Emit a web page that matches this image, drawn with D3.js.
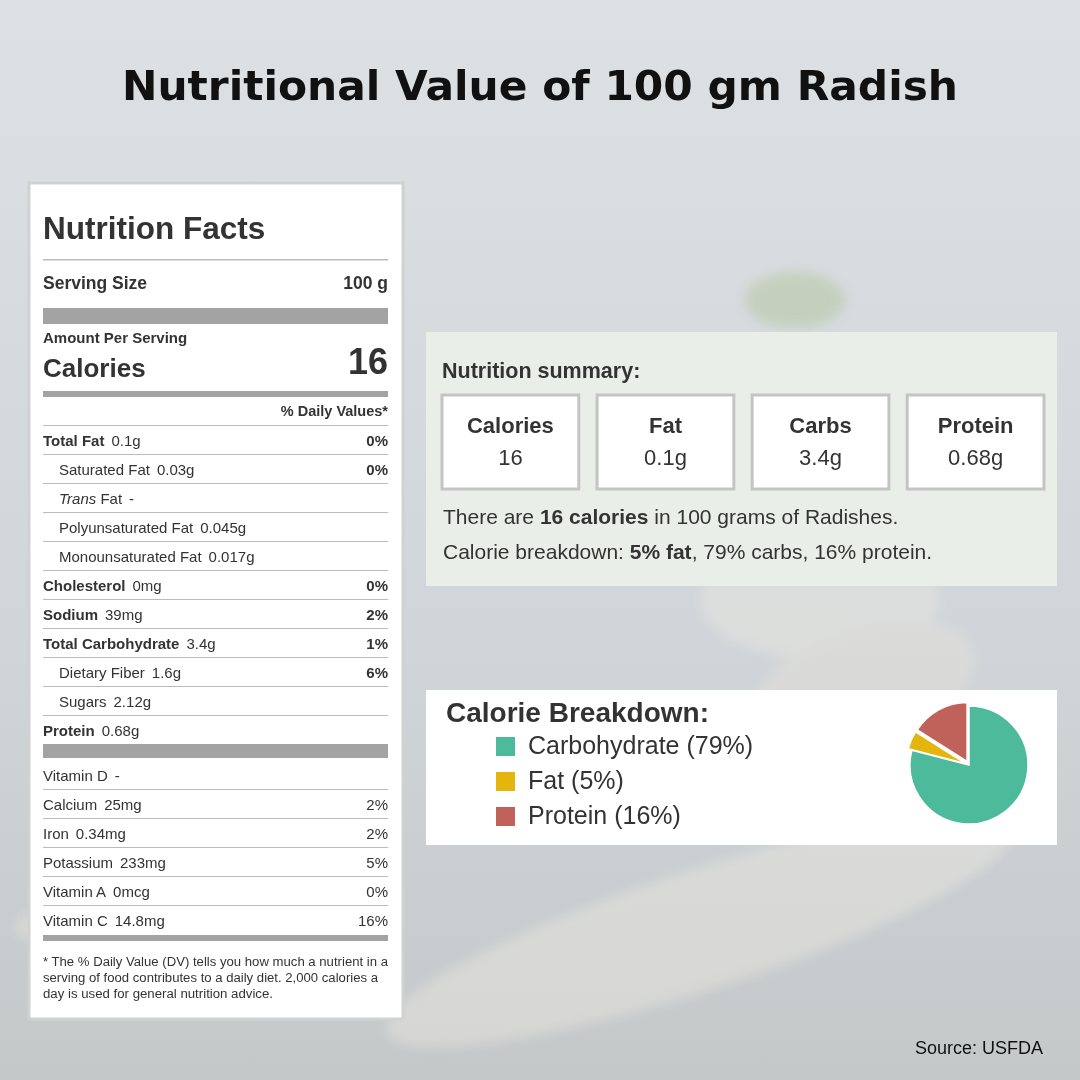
<!DOCTYPE html>
<html>
<head>
<meta charset="utf-8">
<script src="https://cdn.jsdelivr.net/npm/d3@7"></script>
<style>
  body { margin: 0; }
  svg { display: block; font-family: "Liberation Sans", Arial, sans-serif; }
</style>
</head>
<body>
<svg id="chart" width="1080" height="1080"></svg>
<script>
// nutrient rows: [label, amount, %DV, bold, indent, italic]
const nutrientRows = [
  ["Total Fat", "0.1g", "0%", true, false, false],
  ["Saturated Fat", "0.03g", "0%", false, true, false],
  ["Trans", "-", "", false, true, true],
  ["Polyunsaturated Fat", "0.045g", "", false, true, false],
  ["Monounsaturated Fat", "0.017g", "", false, true, false],
  ["Cholesterol", "0mg", "0%", true, false, false],
  ["Sodium", "39mg", "2%", true, false, false],
  ["Total Carbohydrate", "3.4g", "1%", true, false, false],
  ["Dietary Fiber", "1.6g", "6%", false, true, false],
  ["Sugars", "2.12g", "", false, true, false],
  ["Protein", "0.68g", "", true, false, false]
];
const vitaminRows = [
  ["Vitamin D", "-", ""],
  ["Calcium", "25mg", "2%"],
  ["Iron", "0.34mg", "2%"],
  ["Potassium", "233mg", "5%"],
  ["Vitamin A", "0mcg", "0%"],
  ["Vitamin C", "14.8mg", "16%"]
];
const summaryLabels = ["Calories", "Fat", "Carbs", "Protein"];
const summaryValues = ["16", "0.1g", "3.4g", "0.68g"];
const breakdownNames = ["Carbohydrate", "Fat", "Protein"];
const breakdownPct = [79, 5, 16];
const breakdownColors = ["#4dbb9b", "#e4b50c", "#c0625a"];

const svg = d3.select("#chart");
const defs = svg.append("defs");
const bg = defs.append("linearGradient").attr("id", "bg").attr("x1", 0).attr("y1", 0).attr("x2", 0).attr("y2", 1);
bg.append("stop").attr("offset", 0).attr("stop-color", "#dde1e4");
bg.append("stop").attr("offset", 0.6).attr("stop-color", "#d0d5d9");
bg.append("stop").attr("offset", 1).attr("stop-color", "#c5c8c9");
svg.append("rect").attr("width", 1080).attr("height", 1080).attr("fill", "url(#bg)");
defs.append("filter").attr("id", "blur").append("feGaussianBlur").attr("stdDeviation", 6);

// faint radish shapes in the background
const deco = svg.append("g").attr("filter", "url(#blur)").attr("opacity", 0.4);
deco.append("ellipse").attr("cx", 820).attr("cy", 600).attr("rx", 120).attr("ry", 60).attr("fill", "#eeeae2");
deco.append("ellipse").attr("cx", 700).attr("cy", 930).attr("rx", 330).attr("ry", 60)
  .attr("transform", "rotate(-18 700 930)").attr("fill", "#efece4");
deco.append("ellipse").attr("cx", 860).attr("cy", 690).attr("rx", 120).attr("ry", 60)
  .attr("transform", "rotate(-20 860 690)").attr("fill", "#e9e4da");
deco.append("ellipse").attr("cx", 795).attr("cy", 300).attr("rx", 50).attr("ry", 28).attr("fill", "#a9c089");
deco.append("ellipse").attr("cx", 180).attr("cy", 900).attr("rx", 170).attr("ry", 30)
  .attr("transform", "rotate(-10 180 900)").attr("fill", "#ece8df");

svg.append("text").attr("x", 122).attr("y", 100)
  .attr("font-family", "'DejaVu Sans', sans-serif").attr("font-weight", 700).attr("font-size", 40).attr("fill", "#111")
  .attr("textLength", 836).attr("lengthAdjust", "spacingAndGlyphs")
  .text("Nutritional Value of 100 gm Radish");

// ---- Nutrition facts label
const L = 43, R = 388;
const lab = svg.append("g");
lab.append("rect").attr("x", 29).attr("y", 183).attr("width", 374).attr("height", 836)
  .attr("fill", "#fff").attr("stroke", "#cfd2d0").attr("stroke-width", 3);
const txtc = "#333";
lab.append("text").attr("x", L).attr("y", 239).attr("font-size", 31.5).attr("font-weight", 700).attr("fill", txtc).text("Nutrition Facts");
const hline = (y, w, c) => lab.append("rect").attr("x", L).attr("y", y).attr("width", R - L).attr("height", w).attr("fill", c || "#bbb");
hline(259, 1.5);
lab.append("text").attr("x", L).attr("y", 289).attr("font-size", 17.5).attr("font-weight", 700).attr("fill", txtc).text("Serving Size");
lab.append("text").attr("x", R).attr("y", 289).attr("text-anchor", "end").attr("font-size", 17.5).attr("font-weight", 700).attr("fill", txtc).text("100 g");
hline(308, 16, "#a3a3a3");
lab.append("text").attr("x", L).attr("y", 343).attr("font-size", 15).attr("font-weight", 700).attr("fill", txtc).text("Amount Per Serving");
lab.append("text").attr("x", L).attr("y", 377).attr("font-size", 26).attr("font-weight", 700).attr("fill", txtc).text("Calories");
lab.append("text").attr("x", R).attr("y", 374).attr("text-anchor", "end").attr("font-size", 36).attr("font-weight", 700).attr("fill", txtc).text(summaryValues[0]);
hline(391, 6, "#a3a3a3");
lab.append("text").attr("x", R).attr("y", 416).attr("text-anchor", "end").attr("font-size", 14.5).attr("font-weight", 700).attr("fill", txtc).text("% Daily Values*");
hline(425, 1);

const fs = 15;
const rowY = d3.scaleLinear().domain([0, 1]).range([446, 475]);
nutrientRows.forEach((d, i) => {
  const y = rowY(i);
  const t = lab.append("text").attr("x", d[4] ? L + 16 : L).attr("y", y).attr("font-size", fs).attr("fill", txtc);
  t.append("tspan").attr("font-weight", d[3] ? 700 : 400).attr("font-style", d[5] ? "italic" : "normal").text(d[0]);
  if (d[5]) t.append("tspan").text(" Fat");
  t.append("tspan").attr("dx", 7).text(d[1]);
  if (d[2]) lab.append("text").attr("x", R).attr("y", y).attr("text-anchor", "end").attr("font-size", fs).attr("font-weight", 700).attr("fill", txtc).text(d[2]);
  if (i < nutrientRows.length - 1) hline(y + 8, 1);
});
hline(rowY(nutrientRows.length - 1) + 8, 14, "#a3a3a3");
const vY = d3.scaleLinear().domain([0, 1]).range([781, 810]);
vitaminRows.forEach((d, i) => {
  const y = vY(i);
  const t = lab.append("text").attr("x", L).attr("y", y).attr("font-size", fs).attr("fill", txtc);
  t.append("tspan").text(d[0]);
  t.append("tspan").attr("dx", 7).text(d[1]);
  if (d[2]) lab.append("text").attr("x", R).attr("y", y).attr("text-anchor", "end").attr("font-size", fs).attr("fill", txtc).text(d[2]);
  if (i < vitaminRows.length - 1) hline(y + 8, 1);
});
hline(vY(vitaminRows.length - 1) + 9, 6, "#a3a3a3");
[["* The % Daily Value (DV) tells you how much a nutrient in a", 345],
 ["serving of food contributes to a daily diet. 2,000 calories a", 335],
 ["day is used for general nutrition advice.", 230]].forEach((s, i) =>
  lab.append("text").attr("x", L).attr("y", 966 + i * 16).attr("font-size", 12.3).attr("fill", txtc)
    .attr("textLength", s[1]).attr("lengthAdjust", "spacingAndGlyphs").text(s[0]));

// ---- Nutrition summary
const sum = svg.append("g");
sum.append("rect").attr("x", 426).attr("y", 332).attr("width", 631).attr("height", 254).attr("fill", "#eaeee8");
sum.append("text").attr("x", 442).attr("y", 378).attr("font-size", 21.5).attr("font-weight", 700).attr("fill", "#333").text("Nutrition summary:");
const bx = d3.scaleBand().domain(summaryLabels).range([442, 1044]).paddingInner(0.118);
summaryLabels.forEach((s, i) => {
  const x = bx(s), w = bx.bandwidth();
  sum.append("rect").attr("x", x).attr("y", 395).attr("width", w).attr("height", 94)
    .attr("fill", "#fff").attr("stroke", "#c4c4c4").attr("stroke-width", 3);
  sum.append("text").attr("x", x + w / 2).attr("y", 433).attr("text-anchor", "middle").attr("font-size", 22).attr("font-weight", 700).attr("fill", "#333").text(s);
  sum.append("text").attr("x", x + w / 2).attr("y", 465).attr("text-anchor", "middle").attr("font-size", 22).attr("fill", "#333").text(summaryValues[i]);
});
const s1 = sum.append("text").attr("x", 443).attr("y", 524).attr("font-size", 21).attr("fill", "#333");
s1.append("tspan").text("There are ");
s1.append("tspan").attr("font-weight", 700).text(summaryValues[0] + " calories");
s1.append("tspan").text(" in 100 grams of Radishes.");
const s2 = sum.append("text").attr("x", 443).attr("y", 559).attr("font-size", 21).attr("fill", "#333");
s2.append("tspan").text("Calorie breakdown: ");
s2.append("tspan").attr("font-weight", 700).text(breakdownPct[1] + "% fat");
s2.append("tspan").text(", " + breakdownPct[0] + "% carbs, " + breakdownPct[2] + "% protein.");

// ---- Calorie breakdown
const cb = svg.append("g");
cb.append("rect").attr("x", 426).attr("y", 690).attr("width", 631).attr("height", 155).attr("fill", "#fff");
cb.append("text").attr("x", 446).attr("y", 722).attr("font-size", 28).attr("font-weight", 700).attr("fill", "#333").text("Calorie Breakdown:");
breakdownNames.forEach((n, i) => {
  const y = 746 + i * 35;
  cb.append("rect").attr("x", 496).attr("y", y - 9).attr("width", 19).attr("height", 19).attr("fill", breakdownColors[i]);
  cb.append("text").attr("x", 528).attr("y", y + 8).attr("font-size", 25).attr("fill", "#333").text(`${n} (${breakdownPct[i]}%)`);
});
const pie = d3.pie().sort(null).value(d => d)(breakdownPct);
const arc = d3.arc().innerRadius(0).outerRadius(59);
const pg = cb.append("g").attr("transform", "translate(969,765)");
pg.selectAll("path").data(pie).join("path")
  .attr("d", arc)
  .attr("fill", (d, i) => breakdownColors[i])
  .attr("stroke", "#fff").attr("stroke-width", 1.5)
  .attr("transform", (d, i) => {
    if (i === 0) return null;
    const [cx, cy] = arc.centroid(d), k = 4 / Math.hypot(cx, cy);
    return `translate(${cx * k},${cy * k})`;
  });

svg.append("text").attr("x", 1043).attr("y", 1054).attr("text-anchor", "end").attr("font-size", 18).attr("fill", "#111").text("Source: USFDA");
</script>
</body>
</html>
